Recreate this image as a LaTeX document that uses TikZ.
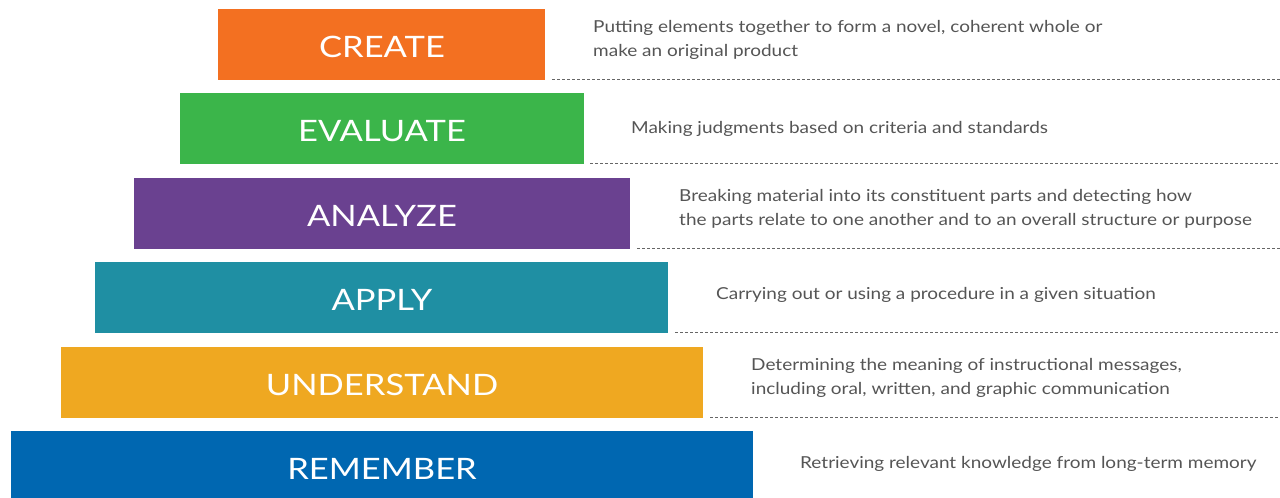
\documentclass[tikz,border=0pt]{standalone}
\usepackage{fontspec}
\setmainfont{Lato}
\newfontfamily\widelato[FakeStretch=1.15]{Lato}
\newfontfamily\widelatolbl[FakeStretch=1.17]{Lato}
\begin{document}
\begin{tikzpicture}[x=1pt,y=-1pt,
  lvltext/.style={text=white, font=\widelatolbl\fontsize{29.5}{34}\selectfont, anchor=center},
  desc/.style={text=descgray, font=\widelato\fontsize{16.5}{24}\selectfont, align=left, anchor=west, inner sep=0pt},
  sep/.style={draw=sepgray, dash pattern=on 3pt off 2pt, line width=0.9pt}]
\definecolor{corange}{HTML}{F37021}
\definecolor{cgreen}{HTML}{3BB54A}
\definecolor{cpurple}{HTML}{6A4190}
\definecolor{cteal}{HTML}{1F8FA3}
\definecolor{cgold}{HTML}{EFA821}
\definecolor{cblue}{HTML}{0067B1}
\definecolor{descgray}{HTML}{555555}
\definecolor{sepgray}{HTML}{666666}
\useasboundingbox (0,0) rectangle (1280,498);
% boxes
\fill[corange] (218,9) rectangle (545,80);
\fill[cgreen] (180,93) rectangle (584,164);
\fill[cpurple] (134,178) rectangle (630,249);
\fill[cteal] (95,262) rectangle (668,333);
\fill[cgold] (61,347) rectangle (703,418);
\fill[cblue] (11,431) rectangle (753,498);
% labels
\node[lvltext] (create) at (382,47) {CREATE};
\node[lvltext] (evaluate) at (382,131) {EVALUATE};
\node[lvltext] (analyze) at (382,216) {ANALYZE};
\node[lvltext] (apply) at (382,300) {APPLY};
\node[lvltext] (understand) at (382,385) {UNDERSTAND};
\node[lvltext] (remember) at (382,469) {REMEMBER};
% descriptions
\node[desc] (dcreate) at (593,40) {Putting elements together to form a novel, coherent whole or\\make an original product};
\node[desc] (devaluate) at (631,129) {Making judgments based on criteria and standards};
\node[desc] (danalyze) at (679,209) {Breaking material into its constituent parts and detecting how\\the parts relate to one another and to an overall structure or purpose};
\node[desc] (dapply) at (716,295) {Carrying out or using a procedure in a given situation};
\node[desc] (dunderstand) at (751,378) {Determining the meaning of instructional messages,\\including oral, written, and graphic communication};
\node[desc] (dremember) at (800,464) {Retrieving relevant knowledge from long-term memory};
% separators
\coordinate (s1a) at (552,79); \coordinate (s1b) at (1280,79);
\coordinate (s2a) at (590,163); \coordinate (s2b) at (1280,163);
\coordinate (s3a) at (637,248); \coordinate (s3b) at (1280,248);
\coordinate (s4a) at (675,332); \coordinate (s4b) at (1280,332);
\coordinate (s5a) at (710,417); \coordinate (s5b) at (1280,417);
\draw[sep] (s1a) -- (s1b);
\draw[sep] (s2a) -- (s2b);
\draw[sep] (s3a) -- (s3b);
\draw[sep] (s4a) -- (s4b);
\draw[sep] (s5a) -- (s5b);
\end{tikzpicture}
\end{document}
